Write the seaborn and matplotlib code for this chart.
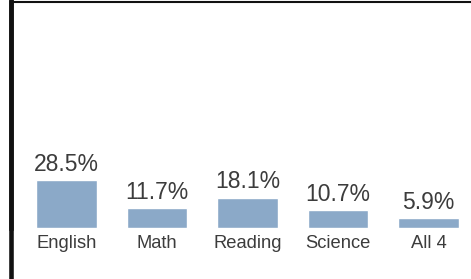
import matplotlib
matplotlib.use("Agg")
import matplotlib.pyplot as plt
import seaborn as sns
import pandas as pd
from matplotlib.lines import Line2D

categories = ["English", "Math", "Reading", "Science", "All 4"]
values = [28.5, 11.7, 18.1, 10.7, 5.9]
value_labels = ["28.5%", "11.7%", "18.1%", "10.7%", "5.9%"]

sns.set_theme(style="white")
plt.rcParams["font.family"] = ["Liberation Sans", "DejaVu Sans"]

W, H = 471, 279
dpi = 100
fig = plt.figure(figsize=(W / dpi, H / dpi), dpi=dpi)
fig.patch.set_facecolor("white")

# axes in pixels: left 10.5, right 471, top 2, bottom (baseline) 228
left_px, right_px, top_px, base_px = 10.5, 471.0, 2.0, 228.0
ax = fig.add_axes([left_px / W, (H - base_px) / H,
                   (right_px - left_px) / W, (base_px - top_px) / H])

df = pd.DataFrame({"cat": categories, "val": values})
sns.barplot(data=df, x="cat", y="val", color="#8BA9C8", saturation=1,
            width=0.674, ax=ax)

ax.set_xlim((left_px - 66.5) / 90.5, (right_px - 66.5) / 90.5)
ax.set_ylim(0, (base_px - top_px) / 1.684)

ax.bar_label(ax.containers[0], labels=value_labels, padding=3.0,
             fontsize=16.5, color="#3c3c3c")

ax.set_xlabel("")
ax.set_ylabel("")
ax.set_yticks([])
ax.tick_params(axis="x", length=0, pad=5.0, labelsize=13.2, labelcolor="#3c3c3c")

for s in ["right", "bottom"]:
    ax.spines[s].set_visible(False)
ax.spines["left"].set_color("#111111")
ax.spines["left"].set_linewidth(3.3)
ax.spines["top"].set_color("#111111")
ax.spines["top"].set_linewidth(1.5)
ax.set_facecolor("white")

# extend left line to full height of figure
fig.add_artist(Line2D([left_px / W, left_px / W], [0, 1], color="#111111",
                      linewidth=3.3, transform=fig.transFigure))

fig.savefig("out.png", dpi=dpi, facecolor="white")
